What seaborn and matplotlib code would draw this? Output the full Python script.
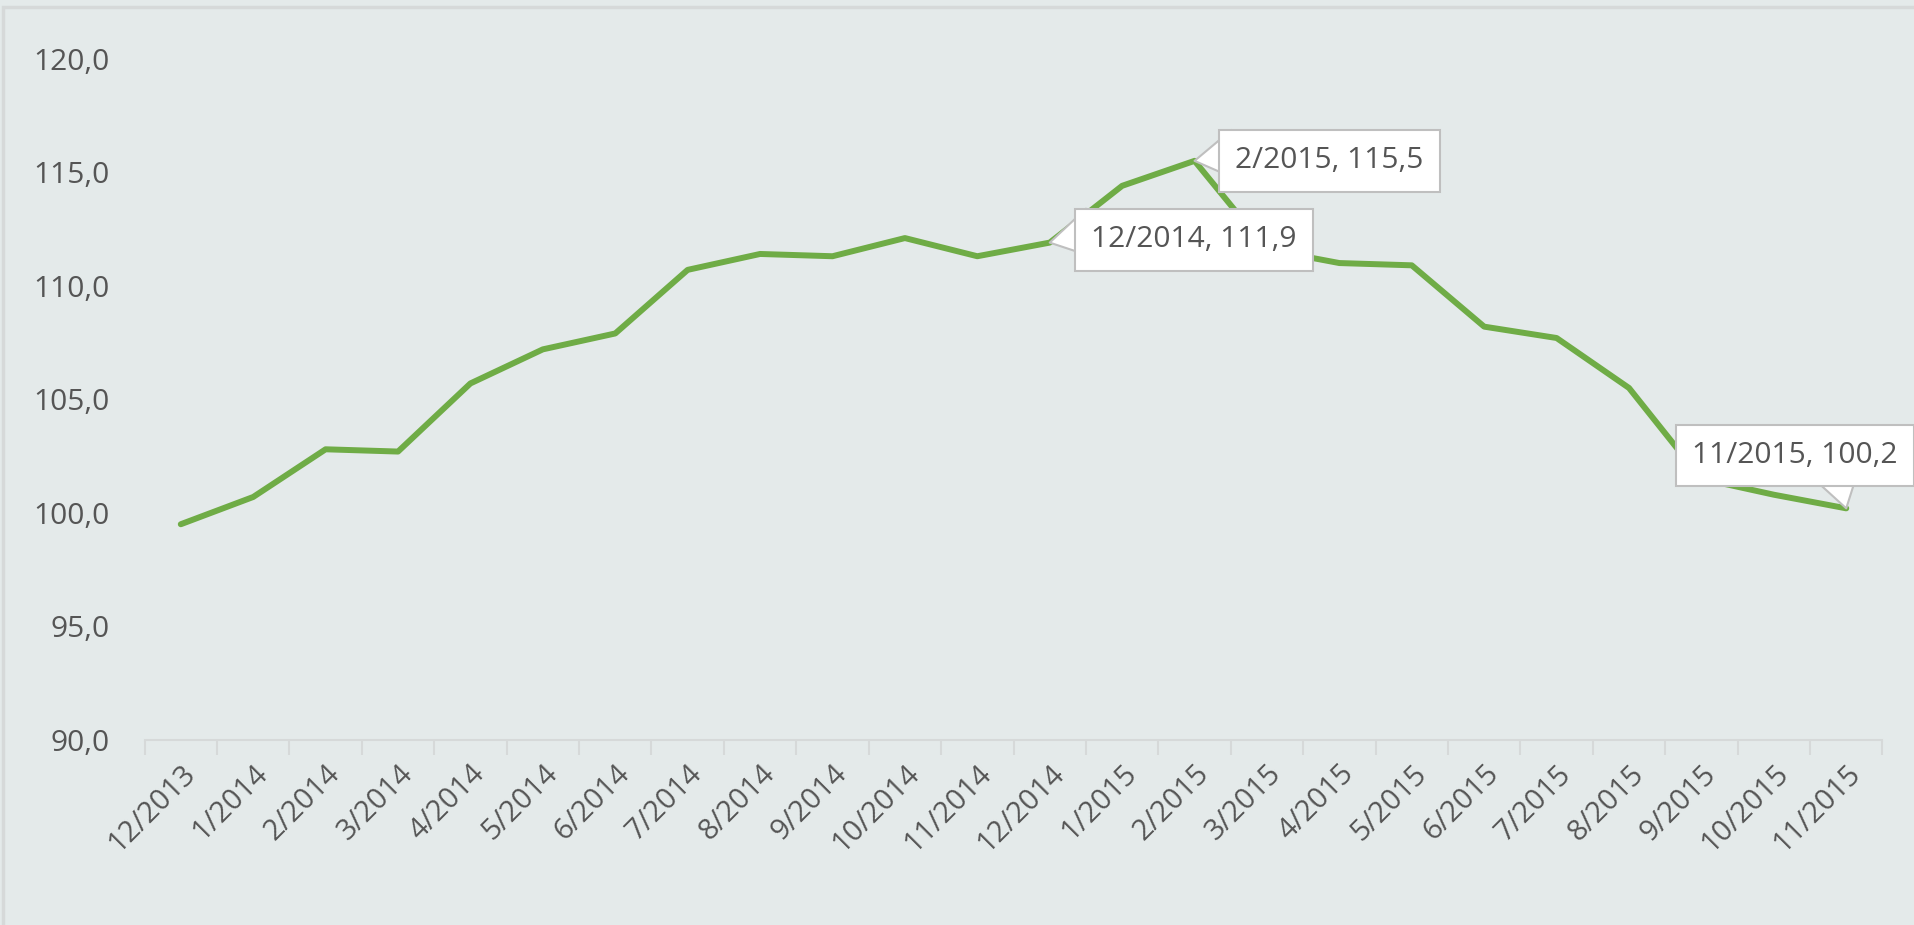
import matplotlib
matplotlib.use("Agg")
import matplotlib.pyplot as plt
import seaborn as sns
import pandas as pd
from matplotlib.patches import Rectangle
from matplotlib.ticker import FixedLocator

months = ["12/2013", "1/2014", "2/2014", "3/2014", "4/2014", "5/2014", "6/2014",
          "7/2014", "8/2014", "9/2014", "10/2014", "11/2014", "12/2014",
          "1/2015", "2/2015", "3/2015", "4/2015", "5/2015", "6/2015", "7/2015",
          "8/2015", "9/2015", "10/2015", "11/2015"]
values = [99.5, 100.7, 102.8, 102.7, 105.7, 107.2, 107.9, 110.7, 111.4, 111.3,
          112.1, 111.3, 111.9, 114.4, 115.5, 111.6, 111.0, 110.9, 108.2, 107.7,
          105.5, 101.5, 100.8, 100.2]
y_ticks = [90, 95, 100, 105, 110, 115, 120]
callouts = ["12/2014", "2/2015", "11/2015"]
callout_offsets = {"12/2014": (104, 2), "2/2015": (97, 0), "11/2015": (-37, 38)}
callout_relpos = {"12/2014": (0.0, 0.72), "2/2015": (0.0, 0.7), "11/2015": (0.70, 0.0)}

BG = "#e4eaea"
GREEN = "#6fac46"
TXT = "#555555"
GRID = "#d6d9d9"

sns.set_theme(style="white")
plt.rcParams["font.family"] = ["Open Sans", "DejaVu Sans"]

df = pd.DataFrame({"month": months, "value": values, "pos": range(len(months))})

fig = plt.figure(figsize=(19.15, 9.25), dpi=100, facecolor=BG)
ax = fig.add_axes([0.0755, 0.2, 0.9075, 0.7366])
ax.set_facecolor(BG)

sns.lineplot(data=df, x="pos", y="value", color=GREEN, linewidth=4.3, ax=ax)

ax.set_xlim(-0.5, len(months) - 0.5)
ax.set_ylim(90, 120)
ax.set_yticks(y_ticks)
ax.set_yticklabels([f"{v:.1f}".replace(".", ",") for v in y_ticks])
ax.set_xticks(df["pos"])
ax.set_xticklabels(months, rotation=45, ha="right", rotation_mode="anchor")
ax.xaxis.set_minor_locator(FixedLocator([i - 0.5 for i in range(len(months) + 1)]))
ax.tick_params(axis="x", which="major", length=0, pad=14, labelsize=21, labelcolor=TXT)
ax.tick_params(axis="x", which="minor", length=11, width=1.5, color=GRID, bottom=True)
ax.tick_params(axis="y", length=0, pad=25, labelsize=21.5, labelcolor=TXT)
ax.set_xlabel("")
ax.set_ylabel("")
for s in ["top", "right", "left"]:
    ax.spines[s].set_visible(False)
ax.spines["bottom"].set_color(GRID)
ax.spines["bottom"].set_linewidth(1.5)

for lab in callouts:
    i = months.index(lab)
    v = values[i]
    txt = f"{lab}, " + f"{v:.1f}".replace(".", ",")
    ax.annotate(txt, xy=(i, v), xytext=callout_offsets[lab], textcoords="offset points",
                ha="center", va="center", fontsize=21.5, color=TXT,
                bbox=dict(boxstyle="square,pad=0.55", fc="white", ec="#bfbfbf", lw=1.5),
                arrowprops=dict(arrowstyle="wedge,tail_width=1.7", fc="white", ec="#bfbfbf",
                                lw=1.5, shrinkA=0, shrinkB=0, patchA=None,
                                relpos=callout_relpos[lab]),
                annotation_clip=False, zorder=5)

# chart border
fig.patches.append(Rectangle((0.0015, -0.01), 1.05, 1 - 0.0075 + 0.01, transform=fig.transFigure,
                             fill=False, ec=GRID, lw=2.5, zorder=0))

fig.savefig("out.png", dpi=100, facecolor=BG)
